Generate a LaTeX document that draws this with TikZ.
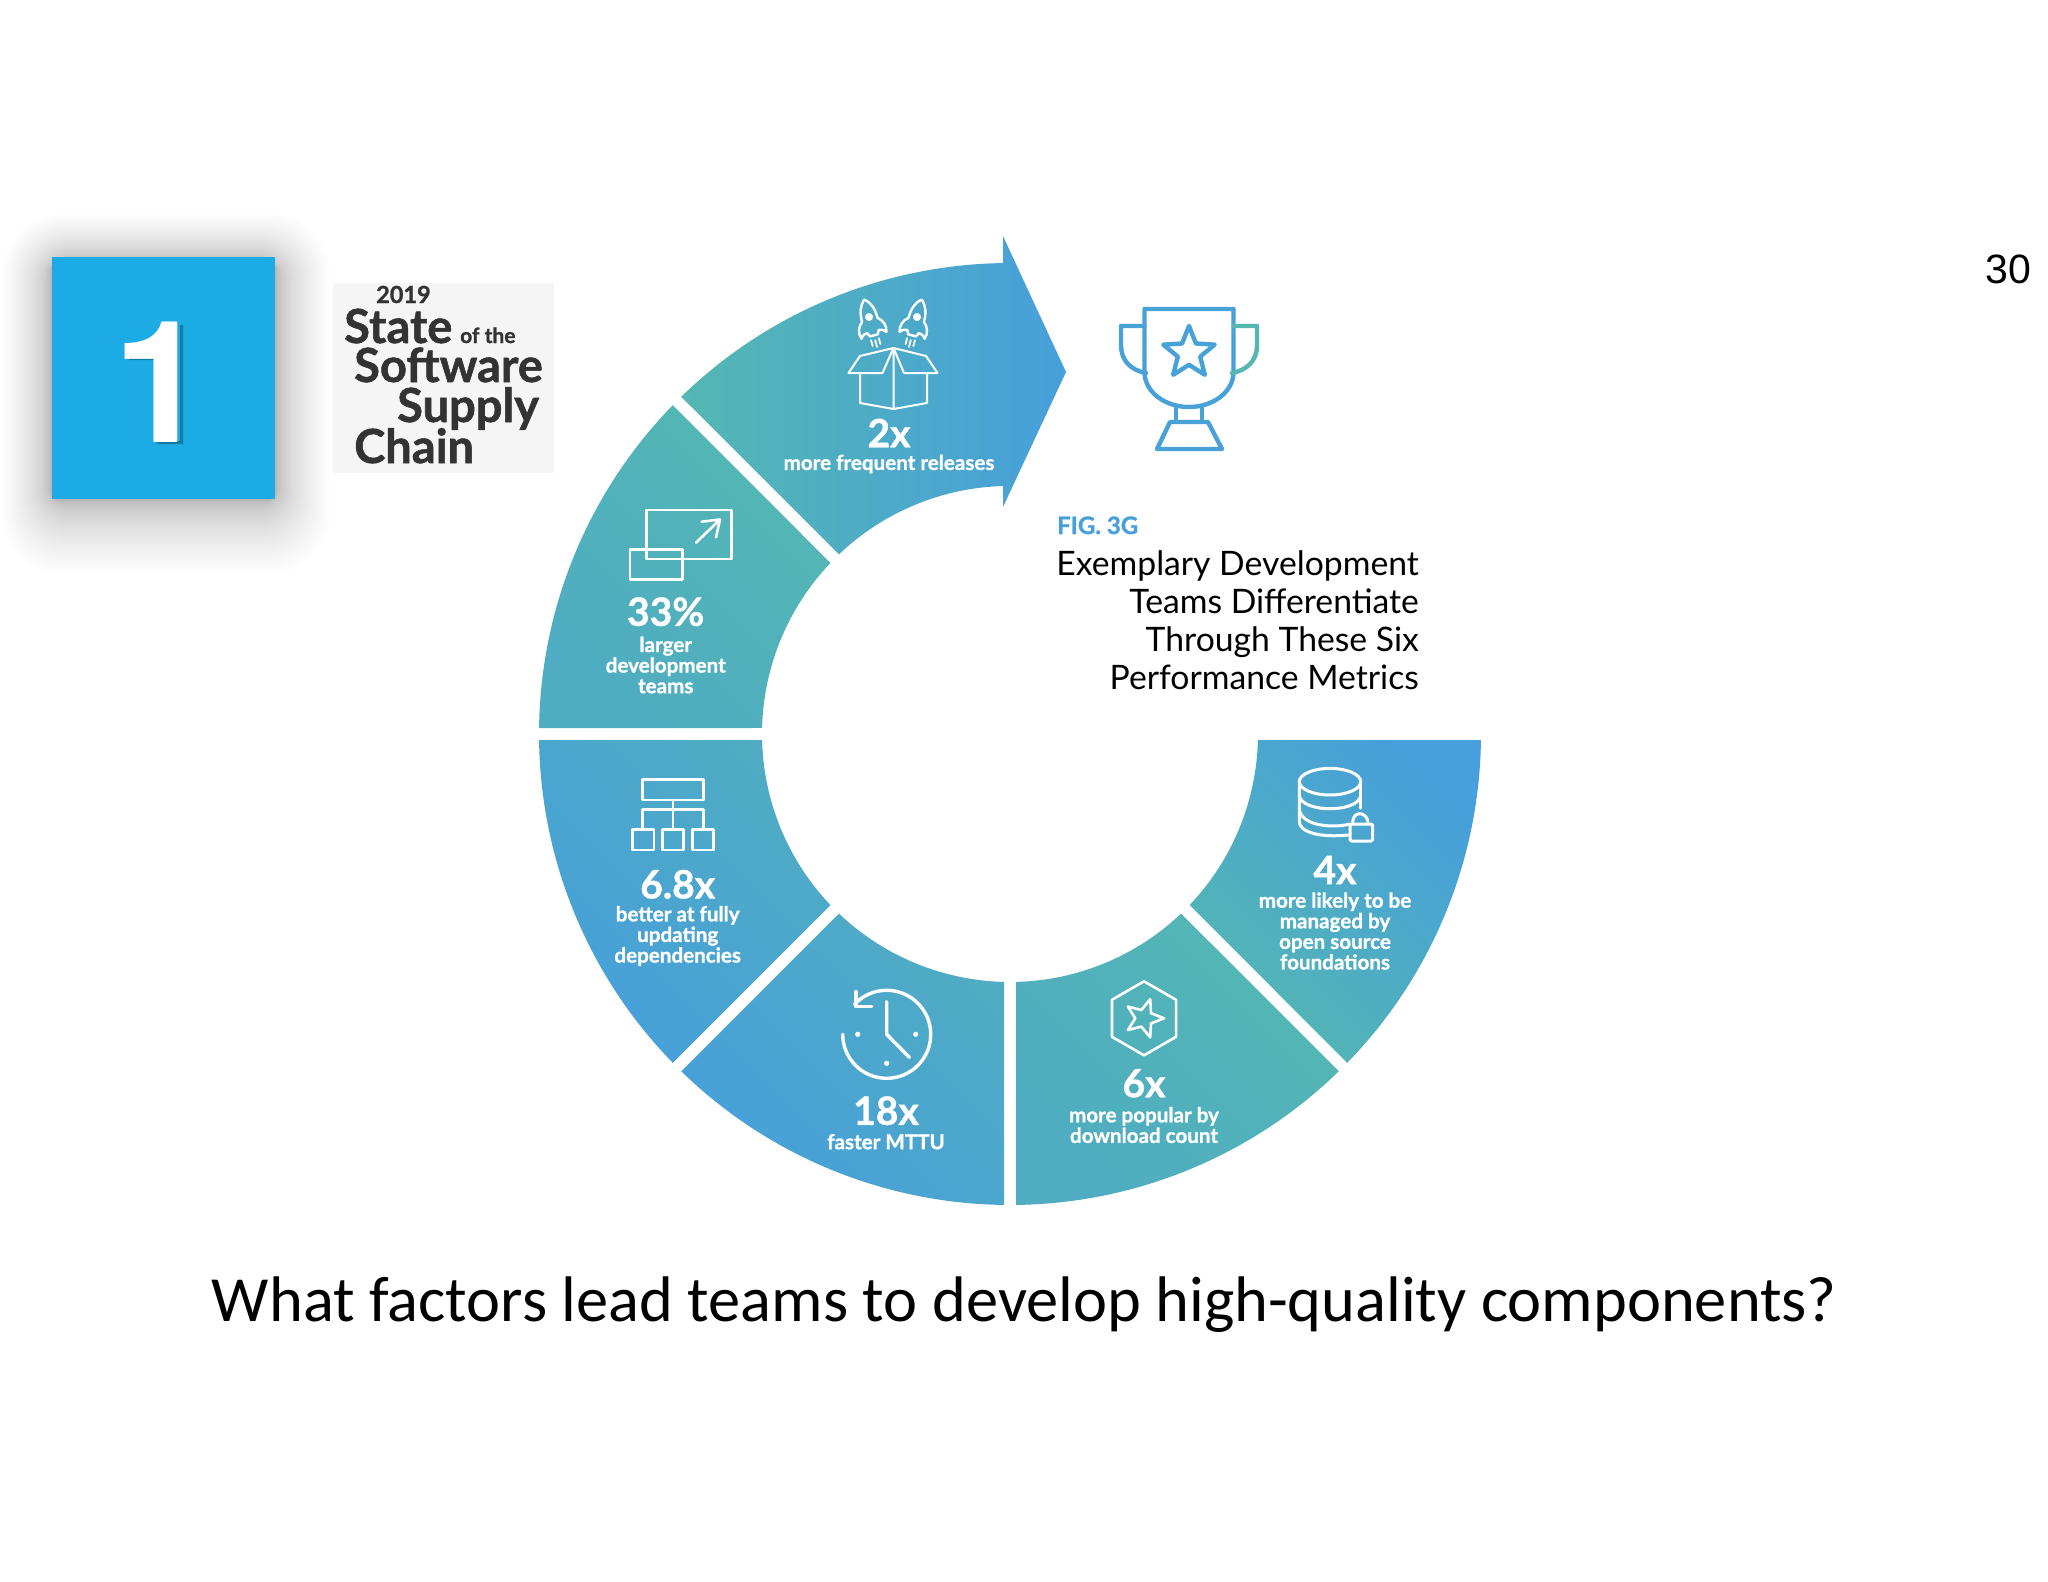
\documentclass[tikz,border=0pt]{standalone}
\usepackage{fontspec}
\setmainfont[BoldFeatures={FakeBold=1.1}]{Lato}
\newfontfamily\pagefont{Liberation Sans}
\newfontfamily\onefont{TeX Gyre Heros}
\newfontfamily\askfont{Carlito}
\usetikzlibrary{shapes.geometric,calc}
\newcommand{\fs}[1]{\fontsize{#1}{#1}\selectfont}
\definecolor{ringteal}{HTML}{54B7B2}
\definecolor{ringblue}{HTML}{479FDB}
\definecolor{midblue}{HTML}{4FACC2}
\definecolor{squareblue}{HTML}{1CABE4}
\definecolor{logodark}{HTML}{333333}
\tikzset{
  stat/.style={text=white,font=\bfseries\fs{39},inner sep=0},
  statlabel/.style={text=white,font=\bfseries\fs{20.6},align=center,inner sep=0},
  logotext/.style={text=logodark,font=\bfseries\fs{47},anchor=base west,inner sep=0},
  metric/.style={text=black,font=\fs{33.7},anchor=base east,inner sep=0},
  icon/.style={draw=white,line width=2.6pt,line join=round,line cap=round},
  cup/.style={draw=ringblue!90!ringteal,line width=4.4pt,line join=round,line cap=round},
  rocket/.pic={
    \draw[icon,line width=2.4pt] (0,-18) .. controls (-6,-13) and (-8,-6) .. (-8,3) .. controls (-13,7) and (-15,13) .. (-13,19) .. controls (-11,16) and (-8,15) .. (-6,15) -- (-4,19) -- (4,19) -- (6,15) .. controls (8,15) and (11,16) .. (13,19) .. controls (15,13) and (13,7) .. (8,3) .. controls (8,-6) and (6,-13) .. (0,-18) -- cycle;
    \fill[white] (0,0) circle (4);
    \draw[icon,line width=1.8pt] (-4,23) -- (-4,29) (0,24) -- (0,31) (4,23) -- (4,29);
  }
}
\begin{document}
\begin{tikzpicture}[x=1pt,y=-1pt]
  \useasboundingbox (0,0) rectangle (2048,1582);
  \fill[white] (0,0) rectangle (2048,1582);

  \foreach \s in {1,...,40}
    \fill[black,opacity=0.0075,rounded corners=\s*1.5pt] (52-50*\s/40*\s/40,262-48*\s/40*\s/40) rectangle (275+55*\s/40*\s/40,499+75*\s/40*\s/40);
  \fill[squareblue] (52,257) rectangle (275,499);
  \fill[squareblue!72!black] (157,360) -- (157,444) -- (183,444) -- (183,325) -- (180,325) -- (180,441) -- (155,441) -- (155,360) -- (129,360) -- (129,357) -- (155,357) -- cycle;
  \node[text=white,font=\onefont\bfseries\fs{170},inner sep=0,anchor=base] (one) at (161,442) {1};

  \fill[black!4] (333,283) rectangle (554,473);
  \node[logotext,font=\bfseries\fs{23.5}] (year) at (376,303) {2019};
  \node[logotext] (state) at (344,343) {State};
  \node[logotext,font=\bfseries\fs{21}] (ofthe) at (460,343) {of the};
  \node[logotext] (software) at (354,382) {Software};
  \node[logotext] (supply) at (397,422) {Supply};
  \node[logotext] (chain) at (354,463) {Chain};

  \coordinate (c) at (1010,734);
  \foreach \s/\e/\ca/\cb in {0/45/ringteal/ringblue,45/90/midblue/ringteal,90/135/ringblue/midblue,135/180/ringblue/midblue,180/225/midblue/ringteal}
    \shade[top color=\cb,bottom color=\ca,shading angle=-45] ($(c)+(\s+.73:471)$) arc[start angle=\s+.73,end angle=\e-.73,radius=471] -- ($(c)+(\e-1.39:248)$) arc[start angle=\e-1.39,end angle=\s+1.39,radius=248] -- cycle;
  \shade[top color=ringblue,bottom color=ringteal,shading angle=-90] ($(c)+(225.73:471)$) arc[start angle=225.73,end angle=269.15,radius=471] -- (1003,236) -- (1066,372) -- (1003,507) -- (1003,486) arc[start angle=268.38,end angle=226.39,radius=248] -- cycle;

  \pic[rotate=15] at (869,317) {rocket};
  \pic[rotate=-15] at (917,317) {rocket};
  \draw[icon,line width=2pt] (893.5,348) -- (893.5,409) -- (860,403) -- (860,373) (893.5,409) -- (927,403) -- (927,373);
  \draw[icon,line width=2pt] (848.5,373) -- (860,356) -- (893.5,348) -- (882.5,373) -- cycle (937.5,373) -- (926,356) -- (893.5,348) -- (904,373) -- cycle;
  \node[stat] (twox) at (889,433) {2x};
  \node[statlabel] (releases) at (889,464) {more frequent releases};

  \draw[cup] (1144.5,309) -- (1233.5,309) -- (1233.5,372) .. controls (1233.5,392) and (1213,407) .. (1189,407) .. controls (1165,407) and (1144.5,392) .. (1144.5,372) -- cycle;
  \draw[cup] (1144.5,326) -- (1121,326) -- (1121,345) .. controls (1121,360) and (1130,370) .. (1146,373);
  \draw[cup,draw=ringteal] (1233.5,326) -- (1257,326) -- (1257,345) .. controls (1257,360) and (1248,370) .. (1232,373);
  \draw[cup] (1176,408) -- (1176,422) (1202,408) -- (1202,422);
  \draw[cup] (1170,422) -- (1208,422) -- (1222,449) -- (1157,449) -- cycle;
  \node[cup,star,star points=5,star point ratio=2.3,minimum size=54pt,inner sep=0] (cupstar) at (1189,353) {};

  \node[inner sep=0,text=ringblue,font=\bfseries\fs{24},anchor=base west] (figno) at (1057,534) {FIG. 3G};
  \node[metric] (metrica) at (1419,575) {Exemplary Development};
  \node[metric] (metricb) at (1419,613) {Teams Differentiate};
  \node[metric] (metricc) at (1419,651) {Through These Six};
  \node[metric] (metricd) at (1419,689) {Performance Metrics};

  \draw[icon] (646.7,510) rectangle (731.7,559);
  \draw[icon] (630,549.3) rectangle (682.7,579.3);
  \draw[icon] (696,542.7) -- (720,519.5) (701.7,521.7) -- (720,519.5) -- (716,537.3);
  \node[stat] (pct) at (665.7,611.7) {33\%};
  \node[statlabel] (teams) at (665.7,665) {larger\\development\\teams};

  \draw[icon] (642.7,779.3) rectangle (703.3,800);
  \draw[icon] (673,800) -- (673,829.3) (642.7,829.3) -- (642.7,809.3) -- (703.3,809.3) -- (703.3,829.3);
  \draw[icon] (632.7,829.3) rectangle (654,850) (662.7,829.3) rectangle (683.3,850) (692.7,829.3) rectangle (713.3,850);
  \node[stat] (sixeight) at (677.7,884.3) {6.8x};
  \node[statlabel] (updating) at (677.7,936) {better at fully\\updating\\dependencies};

  \draw[icon,line width=3.4pt] ($(886.7,1034.3)+(223:44)$) arc[start angle=223,end angle=540,radius=44];
  \draw[icon,line width=3.4pt] (856,991.7) -- (856,1006.7) -- (871.7,1006.7);
  \draw[icon,line width=3.4pt] (886.7,1001.7) -- (886.7,1034.3) -- (909.3,1057.3);
  \fill[white] (857.7,1034.3) circle (2.6) (915.7,1034.3) circle (2.6) (886.7,1063.3) circle (2.6);
  \node[stat] (eighteen) at (886,1110.7) {18x};
  \node[statlabel] (mttu) at (886,1141.7) {faster MTTU};

  \node[icon,regular polygon,regular polygon sides=6,minimum size=74pt,inner sep=0,shape border rotate=30] (hexicon) at (1144,1018.3) {};
  \node[icon,star,star points=5,star point ratio=2.3,minimum size=40pt,inner sep=0,shape border rotate=-90] (hexstar) at (1144,1018.3) {};
  \node[stat] (sixx) at (1144,1083.3) {6x};
  \node[statlabel] (popular) at (1144,1125) {more popular by\\download count};

  \draw[icon,line width=3pt] (1330,781.7) ellipse [x radius=30.7,y radius=13.3];
  \draw[icon,line width=3pt] (1299.3,781.7) -- (1299.3,821.7) .. controls (1299.3,832) and (1320,838) .. (1348,835);
  \draw[icon,line width=3pt] (1360.7,781.7) -- (1360.7,808);
  \draw[icon,line width=3pt] (1299.3,796) .. controls (1303,813) and (1357,813) .. (1360.7,796);
  \draw[icon,line width=3pt] (1299.3,810) .. controls (1303,827) and (1335,828) .. (1350,824);
  \draw[icon,line width=3pt,rounded corners=1.5pt] (1350,824) rectangle (1372.7,841);
  \draw[icon,line width=3pt] (1352.7,822) .. controls (1353,811) and (1366,811) .. (1368,821.7);
  \node[stat] (fourx) at (1335,870) {4x};
  \node[statlabel] (foundations) at (1335,931) {more likely to be\\managed by\\open source\\foundations};

  \node[inner sep=0,font=\askfont\fs{64.4}] (question) at (1024.5,1305) {What factors lead teams to develop high-quality components?};
  \node[inner sep=0,font=\pagefont\fs{41}] (pageno) at (2008,269) {30};
\end{tikzpicture}
\end{document}
